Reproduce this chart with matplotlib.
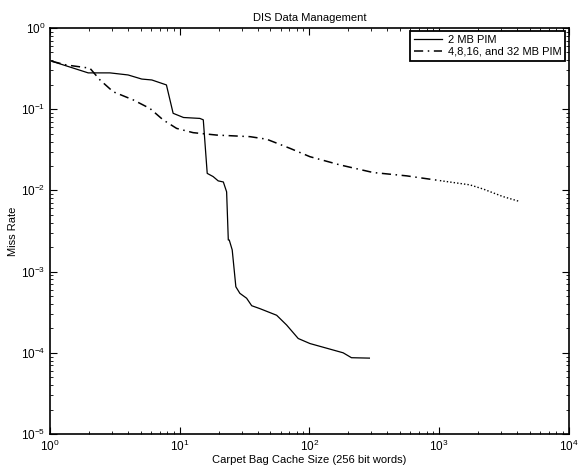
import numpy as np
import matplotlib
matplotlib.use('Agg')
import matplotlib.pyplot as plt

plt.rcParams['font.family'] = ['Liberation Sans', 'DejaVu Sans']
plt.rcParams['mathtext.fontset'] = 'custom'
plt.rcParams['mathtext.rm'] = 'Liberation Sans'
plt.rcParams['mathtext.it'] = 'Liberation Sans'

# 2 MB PIM
size_2mb = [1.03, 1.97, 2.9, 4.0, 5.1, 6.1, 7.9, 8.9, 10.7, 14.3, 15.2, 16.3, 18.1,
            19.8, 21.7, 23.0, 23.7, 24.1, 25.4, 27.1, 29.1, 32.8, 35.9, 41.5, 55.9,
            66.7, 82, 101, 128, 182, 211, 290]
miss_2mb = [0.39, 0.28, 0.28, 0.264, 0.235, 0.229, 0.199, 0.089, 0.079, 0.077, 0.074,
            0.0162, 0.0148, 0.0131, 0.0127, 0.0096, 0.00245, 0.00245, 0.00185, 6.5e-4,
            5.4e-4, 4.7e-4, 3.8e-4, 3.5e-4, 2.9e-4, 2.2e-4, 1.5e-4, 1.3e-4, 1.17e-4,
            1.0e-4, 8.7e-5, 8.6e-5]

# 4,8,16 and 32 MB PIM
size_big = [1.03, 1.34, 2.03, 2.43, 3.07, 4.39, 5.9, 7.47, 9.47, 12.7, 19.3, 34.8,
            46.8, 70.7, 101, 172, 310, 562, 1014]
miss_big = [0.39, 0.35, 0.32, 0.229, 0.164, 0.13, 0.102, 0.0736, 0.058, 0.0514, 0.048,
            0.0459, 0.0427, 0.033, 0.026, 0.0206, 0.0166, 0.0151, 0.0132]
# dotted tail of the same curve
size_tail = [1014, 1726, 2184, 3100, 4180]
miss_tail = [0.0132, 0.0117, 0.0104, 0.0084, 0.0073]

fig = plt.figure(figsize=(5.84, 4.72), dpi=100)
ax = fig.add_axes([0.0856, 0.0805, 0.8884, 0.8602])

ax.plot(size_2mb, miss_2mb, 'k-', linewidth=0.9, label='2 MB PIM')
ax.plot(size_big, miss_big, color='k', linestyle=(0, (6, 3, 1, 3)), linewidth=1.1,
        label='4,8,16, and 32 MB PIM')
ax.plot(size_tail, miss_tail, color='k', linestyle=(0, (1, 1.5)), linewidth=1.0)

ax.set_xscale('log')
ax.set_yscale('log')
ax.set_xlim(1, 1e4)
ax.set_ylim(1e-5, 1)

ax.tick_params(which='both', direction='in', top=True, right=True, labelsize=8.5)
ax.tick_params(which='major', length=5)
ax.tick_params(which='minor', length=2.5)
for s in ax.spines.values():
    s.set_linewidth(1.2)

ax.set_title('DIS Data Management', fontsize=8, pad=5)
ax.set_xlabel('Carpet Bag Cache Size (256 bit words)', fontsize=8, labelpad=1)
ax.set_ylabel('Miss Rate', fontsize=8, labelpad=2)

leg = ax.legend(loc='upper right', fontsize=8, fancybox=False, framealpha=1,
                borderpad=0.35, labelspacing=0.15, handlelength=2.6,
                handletextpad=0.5, borderaxespad=0.3)
leg.get_frame().set_edgecolor('black')
leg.get_frame().set_linewidth(1.3)

fig.savefig('out.png', dpi=100)
